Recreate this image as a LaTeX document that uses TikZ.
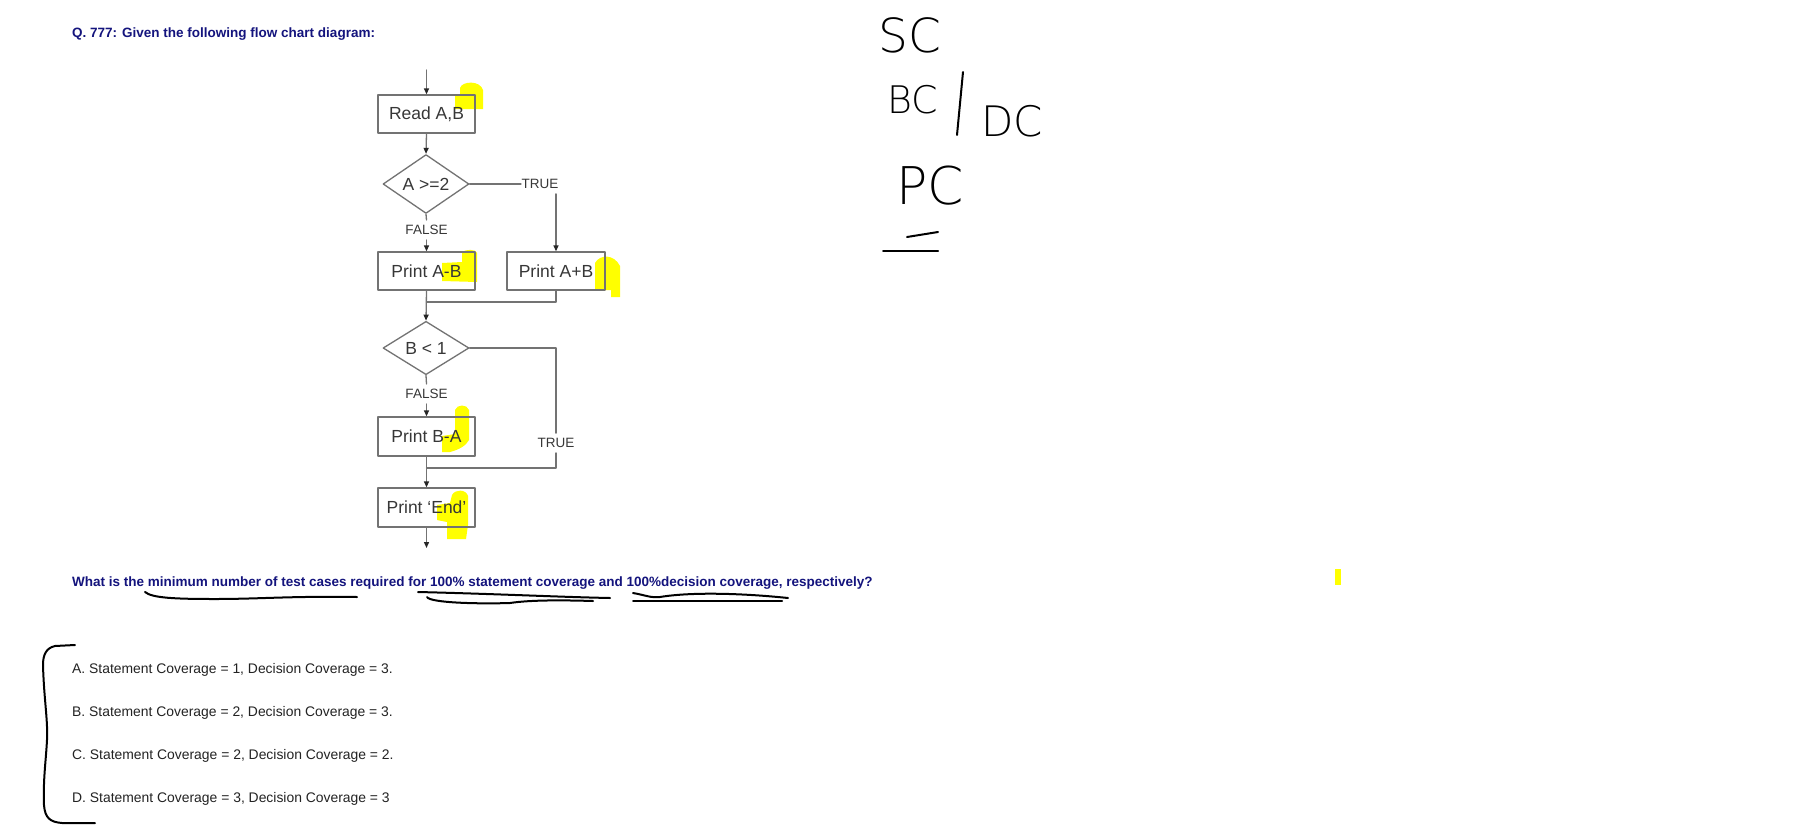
\documentclass[tikz,border=0pt]{standalone}
\usepackage{fontspec}
\setmainfont{Liberation Sans}
\newfontfamily\handfont{DejaVu Sans ExtraLight}
\usetikzlibrary{arrows.meta,shapes.geometric}
\definecolor{qnavy}{RGB}{20,20,125}
\definecolor{optgray}{RGB}{35,35,35}
\definecolor{chartline}{RGB}{115,115,115}
\definecolor{charttext}{RGB}{55,55,55}
\definecolor{marker}{RGB}{255,255,0}

\begin{document}
\begin{tikzpicture}[x=1pt, y=-1pt, >={Triangle[length=6pt,width=5pt,color=black!85]},
  line cap=round, line join=round,
  flowbox/.style={draw=chartline, line width=1.3pt, minimum width=97pt,
    minimum height=38pt, inner sep=0pt, text=charttext,
    font=\fontsize{17.5}{20}\selectfont},
  decision/.style={diamond, draw=chartline, line width=1.3pt,
    minimum width=86pt, minimum height=48pt, inner sep=0pt, text=charttext,
    font=\fontsize{17.5}{20}\selectfont},
  branch/.style={fill=white, inner xsep=0.5pt, inner ysep=5pt, text=charttext,
    font=\fontsize{13.5}{16}\selectfont},
  flow/.style={chartline, line width=1.3pt},
  ink/.style={black, line width=2pt},
  hand/.style={inner sep=0pt, font=\handfont\fontsize{#1}{#1}\selectfont},
  headline/.style={anchor=base west, inner sep=0pt, text=qnavy,
    font=\bfseries\fontsize{13.5}{16}\selectfont},
  choice/.style={anchor=base west, inner sep=0pt, text=optgray,
    font=\fontsize{13.9}{16}\selectfont}]

\useasboundingbox (0,0) rectangle (1814,827);
\fill[white] (0,0) rectangle (1814,827);

% ---------- highlighter marks ----------
\fill[marker] (455,109) -- (455,96) -- (460,96) -- (460,88)
  .. controls (462,81) and (480,80) .. (483,90) -- (483,109) -- cycle;
\fill[marker] (442,263) -- (462,262) -- (462,252)
  .. controls (466,249) and (476,249) .. (477,253) -- (477,282) -- (442,281) -- cycle;
\fill[marker] (595,290) -- (595,263) .. controls (600,254) and (614,254) .. (620,266)
  -- (620,297) -- (611,297) -- (611,290) -- cycle;
\fill[marker] (442,452) -- (442,436) -- (455,434) -- (455,410)
  .. controls (457,404) and (467,404) .. (469,410) -- (469,440)
  .. controls (466,446) and (458,450) .. (450,452) -- cycle;
\fill[marker] (437,520) -- (437,505) -- (450,503) -- (452,495)
  .. controls (455,489) and (466,489) .. (468,496) -- (468,525)
  -- (466,539) -- (447,539) -- (447,522) -- cycle;
\fill[marker] (1335,569) rectangle (1341,585);

% ---------- question ----------
\node[headline] (title) at (72,37) {Q. 777: Given the following flow chart diagram:};
\node[headline] (question) at (72,586) {What is the minimum number of test cases required for 100\% statement coverage and 100\%decision coverage, respectively?};

% ---------- flow chart ----------
\coordinate (start) at (426.5,70);
\node[flowbox] (readab) at (426.5,114) {Read A,B};
\node[decision] (dec1) at (426,184) {A >=2};
\node[branch] (true1) at (540,184) {TRUE};
\node[branch] (false1) at (426.5,230) {FALSE};
\node[flowbox] (printAmB) at (426.5,271) {Print A-B};
\node[flowbox, minimum width=98pt] (printApB) at (556,271) {Print A+B};
\coordinate (join1) at (426.5,302);
\node[decision, minimum height=50pt] (dec2) at (426,348) {B < 1};
\node[branch] (false2) at (426.5,394) {FALSE};
\node[branch] (true2) at (556,443) {TRUE};
\node[flowbox, minimum height=39pt] (printBmA) at (426.5,436.5) {Print B-A};
\coordinate (join2) at (426.5,468);
\node[flowbox, minimum height=39pt] (printEnd) at (426.5,507.5) {Print ‘End’};
\coordinate (stop) at (426.5,548);

\draw[->,flow] (start) -- (readab.north);
\draw[->,flow] (readab.south) -- (dec1.north);
\draw[flow] (dec1.east) -- (true1.west);
\draw[->,flow] (true1.south -| printApB.north) -- (printApB.north);
\draw[flow] (dec1.south) -- (false1.north);
\draw[->,flow] (false1.south) -- (printAmB.north);
\draw[flow] (printApB.south) |- (join1);
\draw[->,flow] (printAmB.south) -- (dec2.north);
\draw[flow] (dec2.east) -| (true2.north);
\draw[flow] (true2.south) |- (join2);
\draw[flow] (dec2.south) -- (false2.north);
\draw[->,flow] (false2.south) -- (printBmA.north);
\draw[->,flow] (printBmA.south) -- (printEnd.north);
\draw[->,flow] (printEnd.south) -- (stop);

% ---------- answers ----------
\node[choice] (optA) at (72,673) {A. Statement Coverage = 1, Decision Coverage = 3.};
\node[choice] (optB) at (72,716) {B. Statement Coverage = 2, Decision Coverage = 3.};
\node[choice] (optC) at (72,759) {C. Statement Coverage = 2, Decision Coverage = 2.};
\node[choice] (optD) at (72,802) {D. Statement Coverage = 3, Decision Coverage = 3};

% ---------- pen notes ----------
\node[hand=47] (sc) at (910,35) {SC};
\node[hand=38] (bc) at (913,100) {BC};
\draw[ink] (963,72) -- (957,135);
\node[hand=42] (dc) at (1012,121) {DC};
\node[hand=52] (pc) at (930,186) {PC};
\draw[ink] (907,237) -- (938,232);
\draw[ink] (883,251) -- (938,251);

\draw[ink] (145,592) .. controls (152,598) and (175,599) .. (215,599)
  .. controls (260,599) and (290,596) .. (357,597);
\draw[ink] (418,592) .. controls (500,594) and (560,597) .. (610,598);
\draw[ink] (427,597) .. controls (430,603) and (480,604) .. (510,603)
  .. controls (530,600) and (560,600) .. (593,601);
\draw[ink] (633,593) .. controls (645,595) and (650,598) .. (660,597)
  .. controls (690,592) and (740,593) .. (788,598);
\draw[ink] (633,601) -- (782,601);

\draw[ink] (75,645) -- (55,646) .. controls (46,648) and (43,655) .. (43,665)
  .. controls (44,700) and (48,720) .. (47,740)
  .. controls (46,760) and (43,780) .. (44,805)
  .. controls (45,818) and (50,822) .. (62,823) -- (95,823);

\end{tikzpicture}
\end{document}
